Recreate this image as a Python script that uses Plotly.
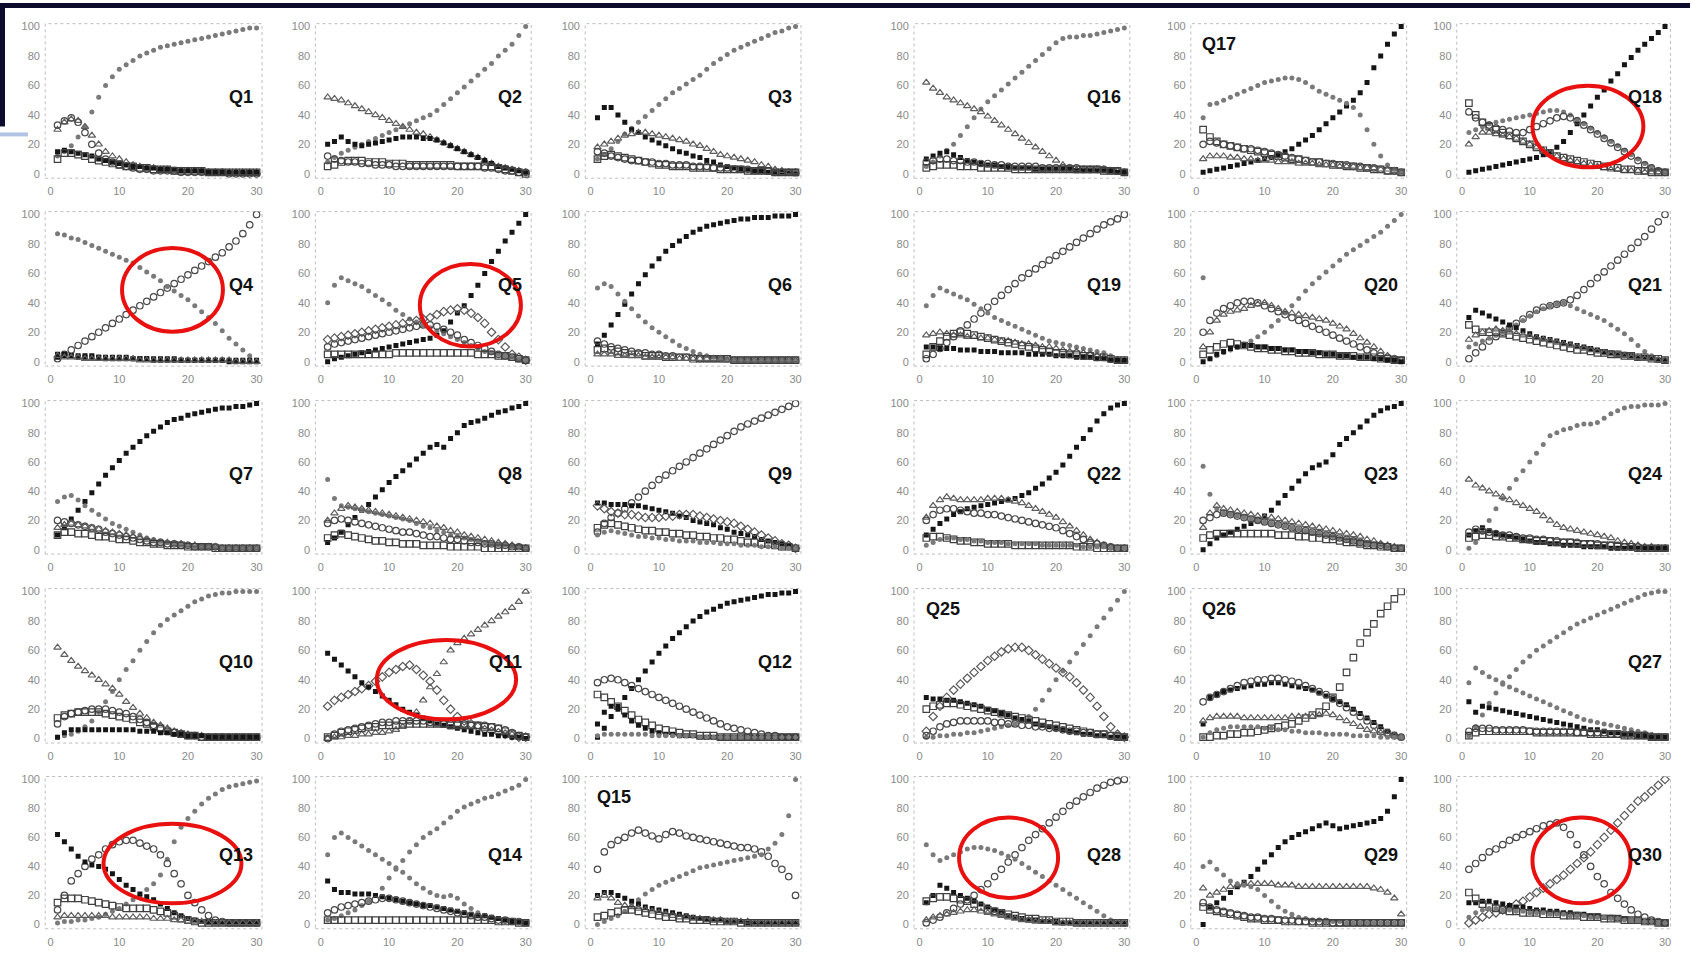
import plotly.graph_objects as go

# ---------------- data (x = 1..30 for every series) ----------------
Q1_a = [12,15,19,25,32,42,52,60,66,71,74,77,80,82,84,86,87,88,89,90,91,92,93,94,95,96,97,98,99,99]
Q1_b = [30,35,37,36,32,26,20,15,12,10,8,6,5,4,4,3,3,2,2,2,2,1,1,1,1,1,1,1,1,1]
Q1_c = [33,36,38,35,28,20,14,10,8,6,5,4,3,3,2,2,2,2,1,1,1,1,1,1,1,0,0,0,0,0]
Q1_d = [15,16,15,14,13,12,10,9,8,7,6,5,5,4,4,3,3,3,2,2,2,2,1,1,1,1,1,1,1,1]
Q1_e = [10,14,14,13,12,10,9,8,7,6,5,5,4,4,3,3,3,2,2,2,2,2,1,1,1,1,1,1,1,1]

Q2_a = [8,11,14,16,18,20,22,24,26,28,30,32,34,36,38,40,43,47,51,55,59,63,67,71,75,80,84,88,94,100]
Q2_b = [52,51,50,48,46,44,42,40,38,36,34,32,30,28,27,25,23,21,19,17,15,13,11,9,7,5,4,3,2,1]
Q2_c = [20,22,25,22,20,19,20,21,22,23,24,25,25,25,24,24,23,21,19,17,15,13,11,9,7,5,4,3,2,1]
Q2_d = [12,10,9,8,8,7,7,6,6,6,5,5,5,5,5,5,5,5,5,5,5,5,5,4,4,3,2,2,1,1]
Q2_e = [5,6,8,9,9,9,8,8,8,7,7,7,6,6,6,6,6,6,6,5,5,5,5,5,5,4,3,2,1,0]

Q3_a = [10,13,17,22,27,31,35,39,43,47,51,55,58,61,64,67,71,75,78,81,84,86,88,90,92,94,96,97,99,100]
Q3_b = [38,45,45,40,35,30,28,25,23,21,19,17,15,14,12,11,9,8,6,5,4,3,3,2,2,1,1,1,1,0]
Q3_c = [18,20,22,24,26,27,28,28,27,26,25,24,23,22,20,19,17,15,13,12,11,10,9,8,6,5,3,2,1,1]
Q3_d = [15,14,12,11,10,9,9,8,8,7,7,6,6,6,5,5,5,4,4,4,3,3,3,2,2,2,1,1,1,1]
Q3_e = [10,12,13,12,11,10,9,8,7,6,6,5,5,5,4,4,4,4,3,3,3,3,2,2,2,2,1,1,1,1]

Q4_a = [2,5,8,11,14,17,20,23,26,29,32,35,38,41,44,47,50,53,56,59,62,65,68,71,74,78,82,87,93,100]
Q4_b = [87,86,84,83,81,79,77,75,73,71,69,67,64,61,58,55,51,48,45,42,38,34,30,26,21,16,12,8,4,1]
Q4_c = [5,5,4,4,4,4,3,3,3,3,3,2,2,2,2,2,2,2,1,1,1,1,1,1,1,1,1,1,1,1]
Q4_d = [3,4,4,3,3,3,3,2,2,2,2,2,2,2,1,1,1,1,1,1,1,1,1,1,1,0,0,0,0,0]
Q4_e = [4,3,3,3,2,2,2,2,2,2,2,2,1,1,1,1,1,1,1,1,1,1,1,1,1,1,0,0,0,0]

Q5_a = [0,2,3,4,5,6,7,8,9,10,11,12,13,14,15,16,18,21,27,33,38,45,52,60,68,75,82,88,94,100]
Q5_b = [40,52,57,55,53,51,48,45,42,39,35,32,29,27,25,23,21,19,17,15,13,11,9,7,6,5,4,3,2,1]
Q5_c = [15,16,17,18,19,20,21,22,23,24,25,26,27,28,29,30,32,34,35,36,35,33,30,26,20,15,10,5,3,1]
Q5_d = [10,12,13,14,15,16,17,18,19,20,21,22,23,24,25,25,24,22,20,18,15,13,11,9,7,5,4,3,2,1]
Q5_e = [5,5,5,5,5,5,5,5,5,5,6,6,6,6,6,6,6,6,6,6,6,6,5,5,5,4,4,3,2,1]

Q6_a = [12,18,25,32,39,46,53,59,65,70,75,79,82,85,88,90,92,93,94,95,96,97,97,98,98,98,99,99,99,100]
Q6_b = [50,53,51,46,41,36,31,27,23,20,17,14,11,9,7,5,4,3,2,2,1,1,1,1,1,1,1,1,1,1]
Q6_c = [14,12,10,9,8,7,6,6,5,5,4,4,3,3,3,2,2,2,2,2,1,1,1,1,1,1,1,1,1,1]
Q6_d = [8,9,8,7,6,5,5,4,4,4,3,3,3,3,2,2,2,2,2,2,1,1,1,1,1,1,1,1,1,1]
Q6_e = [5,5,5,4,4,4,4,3,3,3,3,3,2,2,2,2,2,2,2,1,1,1,1,1,1,1,1,1,1,1]

Q7_a = [10,15,21,27,33,39,45,51,56,61,66,70,74,78,81,84,87,89,90,92,93,94,95,96,97,97,98,98,99,100]
Q7_b = [33,36,37,34,30,27,24,21,18,16,14,12,10,8,7,6,5,4,3,3,2,2,2,1,1,1,1,1,1,1]
Q7_c = [20,19,18,17,16,15,14,12,11,10,9,8,7,6,5,5,4,4,3,3,2,2,2,2,1,1,1,1,1,1]
Q7_d = [15,17,18,17,16,15,14,13,12,11,10,9,8,7,6,5,5,4,4,3,3,2,2,2,1,1,1,1,1,1]
Q7_e = [10,12,12,11,11,10,9,9,8,7,7,6,5,5,4,4,3,3,3,2,2,2,2,1,1,1,1,1,1,1]

Q8_a = [5,8,12,17,22,27,31,36,41,46,50,54,58,62,66,70,72,70,76,80,85,87,88,90,92,94,95,97,98,100]
Q8_b = [48,35,30,29,28,27,26,25,24,23,22,21,20,18,16,15,13,12,10,9,8,7,6,5,4,3,3,2,2,1]
Q8_c = [20,25,28,30,29,28,27,26,25,24,23,22,21,20,19,18,16,15,13,12,10,9,8,7,6,5,4,3,2,1]
Q8_d = [18,20,21,20,19,18,17,16,15,14,13,12,12,11,10,9,9,8,7,7,6,5,5,4,4,3,3,2,2,1]
Q8_e = [8,10,11,10,9,8,7,6,6,5,5,4,4,4,3,3,3,3,2,2,2,2,2,1,1,1,1,1,1,1]

Q9_a = [12,18,22,25,28,32,36,40,44,48,51,54,57,60,63,66,69,72,75,78,81,84,86,88,90,92,94,96,98,100]
Q9_b = [32,32,31,31,31,30,30,29,28,27,26,25,23,22,20,19,18,17,15,14,12,11,10,9,7,6,5,4,3,1]
Q9_c = [30,28,26,25,24,24,23,22,22,22,23,23,24,24,24,23,22,21,20,19,18,16,14,12,10,8,6,4,3,1]
Q9_d = [15,17,18,17,16,15,14,13,13,12,12,11,11,10,10,9,9,8,8,7,7,6,5,5,4,4,3,2,2,1]
Q9_e = [10,12,13,12,11,10,9,9,8,8,7,7,6,6,6,5,5,5,4,4,4,3,3,3,2,2,2,1,1,1]

Q10_a = [1,2,3,5,8,12,18,25,32,40,47,53,60,66,72,77,81,84,87,90,93,95,97,98,99,99,100,100,100,100]
Q10_b = [62,57,53,49,46,43,40,37,34,30,25,21,17,14,11,9,7,5,4,3,2,2,1,1,1,1,1,1,1,1]
Q10_c = [10,15,17,18,19,20,20,20,19,18,17,15,13,11,9,7,5,4,3,2,2,1,1,1,1,1,1,1,1,1]
Q10_d = [14,16,17,18,18,18,18,17,16,15,14,13,11,10,8,7,5,4,3,2,2,1,1,1,1,1,1,1,1,1]
Q10_e = [1,4,6,6,6,6,6,6,6,6,6,6,5,5,5,4,4,3,3,2,2,2,1,1,1,1,1,1,1,1]

Q11_a = [0,1,1,2,2,3,3,4,4,5,6,8,12,18,26,35,44,52,60,65,68,71,74,77,80,83,86,89,93,100]
Q11_b = [22,26,28,30,32,34,36,39,42,45,47,49,50,47,43,39,33,26,20,15,12,10,8,6,5,4,3,2,1,1]
Q11_c = [58,54,50,46,42,38,35,32,29,26,23,20,18,16,14,12,10,9,8,7,6,5,4,3,3,2,2,1,1,0]
Q11_d = [0,3,5,6,7,8,9,10,11,11,12,12,12,12,12,11,11,10,10,10,10,9,9,9,8,7,6,4,2,1]
Q11_e = [1,2,4,5,6,7,8,8,9,9,9,10,10,10,10,10,10,10,9,9,9,9,9,8,8,7,5,3,2,1]

Q12_a = [1,7,15,22,28,34,40,46,52,58,63,68,72,76,80,83,86,88,90,92,93,94,95,96,97,98,98,99,99,100]
Q12_b = [38,40,41,40,38,36,34,32,30,28,26,24,22,20,18,16,14,12,10,8,7,6,5,4,3,2,2,1,1,1]
Q12_c = [30,28,25,22,19,16,13,11,9,7,6,5,4,3,3,2,2,2,1,1,1,1,1,1,1,1,1,1,1,1]
Q12_d = [10,18,22,20,16,12,9,7,5,4,3,3,2,2,2,1,1,1,1,1,1,1,1,1,1,1,1,1,1,1]
Q12_e = [2,3,3,3,3,3,3,3,2,2,2,2,2,2,2,1,1,1,1,1,1,1,1,1,1,1,1,1,1,1]

Q13_a = [1,2,2,3,3,4,5,7,9,11,14,17,20,24,28,34,45,57,67,73,78,83,87,90,93,95,96,97,98,99]
Q13_b = [10,20,30,35,40,45,48,52,55,57,58,58,56,54,52,48,42,35,28,20,15,10,6,3,2,1,1,1,1,1]
Q13_c = [62,57,52,47,43,41,40,38,35,31,27,24,21,19,17,14,11,8,6,4,3,2,2,1,1,1,1,1,1,1]
Q13_d = [15,18,18,18,17,16,15,14,13,12,11,11,11,11,10,9,8,6,4,3,2,1,1,1,1,1,1,1,1,1]
Q13_e = [5,6,6,6,6,6,6,6,5,5,5,5,5,5,4,4,4,3,3,2,2,2,1,1,1,1,1,1,1,1]

Q14_a = [3,4,6,8,10,13,16,20,25,32,38,44,50,55,60,63,66,70,74,78,81,83,85,87,88,90,92,94,96,100]
Q14_b = [48,60,63,60,57,54,51,48,45,42,39,36,32,28,25,22,20,19,20,18,14,11,8,6,5,4,3,2,2,1]
Q14_c = [30,24,22,22,21,21,21,20,19,18,17,16,15,14,13,13,12,11,10,9,8,7,6,6,5,4,3,2,2,1]
Q14_d = [8,10,12,13,14,15,16,17,18,18,17,16,15,14,13,12,11,10,9,8,7,6,5,5,4,3,3,2,2,1]
Q14_e = [3,3,3,3,3,3,3,3,3,3,3,3,3,3,3,3,3,3,3,3,3,3,3,3,3,2,2,2,1,1]

Q15_a = [38,50,55,58,60,63,65,63,61,59,62,64,63,61,60,59,58,57,56,55,54,53,53,52,50,47,42,38,33,20]
Q15_b = [0,2,4,6,9,13,17,21,24,27,29,31,33,35,37,39,40,41,42,43,44,45,46,47,48,52,56,62,75,100]
Q15_c = [20,22,22,20,18,16,14,12,11,10,9,8,7,6,5,4,4,3,3,2,2,2,1,1,1,1,1,1,1,1]
Q15_d = [18,20,18,15,13,12,11,10,9,8,7,6,5,5,4,4,3,3,3,2,2,2,2,1,1,1,1,1,1,1]
Q15_e = [5,6,8,9,10,10,9,8,7,6,5,5,4,4,3,3,3,2,2,2,2,1,1,1,1,1,1,1,1,1]

Q16_a = [5,8,12,16,20,26,32,38,44,49,53,57,61,65,69,73,77,81,85,89,92,93,93,94,94,95,96,97,98,99]
Q16_b = [62,58,55,52,50,48,46,44,42,39,36,33,30,27,24,21,18,15,12,9,6,4,3,3,3,3,3,2,2,1]
Q16_c = [10,12,14,15,13,11,9,8,7,6,6,5,5,4,4,4,3,3,3,3,3,3,2,2,2,2,2,2,1,1]
Q16_d = [8,9,10,10,9,9,8,8,7,7,6,6,5,5,5,5,5,4,4,4,4,4,4,3,3,3,3,2,2,1]
Q16_e = [4,5,6,6,6,5,5,5,4,4,4,4,4,3,3,3,3,3,3,3,3,3,3,3,3,3,2,2,2,1]

Q17_a = [1,2,3,4,5,6,7,8,9,10,11,13,15,17,20,23,26,30,34,38,42,46,50,55,62,72,80,88,95,100]
Q17_b = [38,47,48,50,52,54,56,58,60,62,63,64,65,65,64,62,59,56,54,52,50,48,45,40,30,20,12,6,3,1]
Q17_c = [30,25,22,20,19,18,17,16,15,14,13,12,11,10,10,9,8,8,7,6,6,5,5,4,4,3,3,2,2,1]
Q17_d = [20,22,21,20,19,18,17,17,16,15,14,13,12,11,10,9,8,8,7,7,6,6,5,5,4,4,3,2,2,1]
Q17_e = [10,12,12,12,11,11,10,10,9,9,9,8,8,8,7,7,7,6,6,6,5,5,5,4,4,4,3,3,2,1]

Q18_a = [1,2,3,4,5,6,7,8,9,10,11,13,15,18,22,28,34,40,46,52,57,63,68,74,79,84,88,92,96,100]
Q18_b = [28,30,32,34,35,36,37,38,39,40,41,42,43,43,42,40,37,34,31,28,25,22,19,16,13,10,7,5,3,1]
Q18_c = [42,38,35,33,31,30,29,28,28,30,32,34,36,38,39,38,36,33,30,27,24,21,18,15,12,9,6,4,2,1]
Q18_d = [20,25,28,28,27,26,25,24,22,20,18,16,14,12,10,9,8,7,6,5,4,3,3,2,2,2,1,1,1,1]
Q18_e = [48,40,35,32,30,28,26,24,22,20,18,16,14,12,11,10,9,8,7,6,5,5,4,3,3,2,2,1,1,1]

Q19_a = [2,5,9,13,17,21,25,29,33,37,41,45,49,53,57,60,63,66,69,72,75,78,81,84,87,90,93,95,97,100]
Q19_b = [38,45,50,48,46,44,42,39,36,33,30,28,26,24,22,20,18,16,14,13,12,11,10,9,8,7,6,4,2,1]
Q19_c = [18,19,20,19,18,18,17,17,16,16,15,14,14,13,12,12,11,10,10,9,8,7,7,6,5,4,3,2,1,1]
Q19_d = [10,10,9,9,9,8,8,8,7,7,7,6,6,6,6,5,5,5,5,4,4,4,3,3,3,2,2,1,1,1]
Q19_e = [5,10,14,17,19,20,19,18,17,16,15,14,13,12,11,10,9,8,7,6,6,5,5,4,4,3,3,2,1,1]

Q20_a = [57,2,4,6,8,10,12,14,17,20,24,28,33,38,43,48,53,57,61,65,69,73,76,79,82,85,88,92,96,100]
Q20_b = [20,28,33,36,38,40,41,41,40,38,36,34,32,30,28,26,24,22,20,18,16,14,12,10,8,6,4,3,2,1]
Q20_c = [10,20,28,32,34,35,36,38,39,40,38,36,34,33,32,31,30,29,28,26,24,22,19,16,13,10,7,4,2,1]
Q20_d = [5,8,10,12,13,12,11,10,9,9,8,8,7,7,6,6,6,5,5,5,4,4,4,3,3,3,2,2,1,1]
Q20_e = [0,2,5,7,9,10,11,11,10,10,9,9,8,8,7,7,6,6,5,5,4,4,3,3,3,2,2,1,1,0]

Q21_a = [2,6,10,14,17,20,23,26,29,32,35,37,38,39,40,42,45,49,53,57,61,65,69,73,77,81,85,90,95,100]
Q21_b = [10,12,14,16,18,20,22,25,28,31,34,36,38,39,40,38,36,34,32,30,28,25,22,19,15,11,7,4,2,1]
Q21_c = [30,35,33,31,29,27,25,23,21,19,17,16,15,14,13,12,11,10,9,8,7,6,5,5,4,3,3,2,1,1]
Q21_d = [25,22,20,20,20,19,18,17,16,15,14,13,12,11,10,9,8,8,7,6,6,5,5,4,4,3,3,2,2,1]
Q21_e = [15,18,20,21,22,21,20,19,18,17,16,15,14,13,12,11,10,9,8,7,6,5,5,4,3,3,2,2,1,1]

Q22_a = [10,14,18,21,24,26,28,29,30,31,32,33,34,35,37,39,42,45,49,53,58,64,70,76,82,88,93,97,99,100]
Q22_b = [22,30,34,36,35,34,34,34,34,35,35,35,34,33,32,30,28,26,24,22,19,16,13,10,7,5,3,2,1,1]
Q22_c = [20,24,27,28,28,27,26,25,25,24,24,23,22,21,20,19,18,17,16,15,13,11,9,7,5,4,3,2,1,1]
Q22_d = [8,9,9,8,7,6,6,5,5,4,4,4,4,3,3,3,3,3,3,3,3,3,2,2,2,1,1,1,1,1]
Q22_e = [3,5,7,8,8,7,7,6,6,5,5,5,4,4,4,4,4,3,3,3,3,3,3,2,2,2,2,1,1,1]

Q23_a = [0,4,8,10,12,14,16,18,20,23,27,32,37,42,47,52,56,58,60,65,72,76,80,84,88,92,95,97,98,100]
Q23_b = [57,38,28,25,24,23,22,21,20,19,18,17,16,15,14,13,12,11,10,9,8,7,6,5,4,3,3,2,1,1]
Q23_c = [15,25,30,28,27,26,25,24,23,22,22,21,20,19,18,17,16,15,14,13,12,11,10,9,7,6,4,3,2,1]
Q23_d = [20,22,24,25,24,23,22,21,20,19,18,17,16,15,14,13,12,11,10,9,8,7,6,5,4,3,3,2,1,1]
Q23_e = [8,10,11,11,11,11,11,11,11,11,11,10,10,10,9,9,8,8,7,7,6,5,5,4,3,3,2,2,1,1]

Q24_a = [1,5,12,20,28,35,42,48,54,60,66,72,78,80,82,83,85,86,86,87,90,93,95,97,98,98,99,99,99,100]
Q24_b = [48,44,42,40,38,36,34,32,30,28,26,23,20,17,15,14,13,12,11,10,9,8,6,5,4,3,2,2,1,1]
Q24_c = [10,13,15,13,11,10,9,8,7,6,5,5,4,4,3,3,3,2,2,2,2,1,1,1,1,1,1,1,1,1]
Q24_d = [12,14,13,12,11,10,10,9,8,8,7,7,6,6,5,5,5,4,4,4,3,3,3,2,2,2,1,1,1,1]
Q24_e = [8,9,10,10,9,9,8,8,7,7,6,6,6,5,5,5,4,4,4,3,3,3,2,2,2,1,1,1,1,1]

Q25_a = [1,1,2,2,3,3,4,4,5,6,7,8,9,10,12,15,20,26,33,40,46,52,58,64,70,76,82,88,94,100]
Q25_b = [5,15,22,28,33,37,41,45,49,53,56,59,61,62,62,60,57,54,51,48,45,42,38,33,28,22,15,8,3,1]
Q25_c = [28,27,27,26,26,25,24,23,22,20,19,17,16,14,13,12,10,9,8,7,6,5,4,3,3,2,2,1,1,1]
Q25_d = [20,22,23,24,24,23,22,21,20,19,18,17,16,15,14,13,12,11,10,9,8,7,6,5,4,3,3,2,1,1]
Q25_e = [2,5,8,10,11,12,12,12,12,12,11,11,10,10,9,9,8,8,7,7,6,5,5,4,4,3,3,2,2,1]

Q26_a = [1,1,2,2,3,3,4,4,5,6,7,8,9,10,12,14,16,18,22,28,35,45,55,65,72,78,85,90,95,100]
Q26_b = [10,28,30,32,33,34,35,36,37,37,38,38,37,36,35,34,33,31,29,27,25,23,20,17,14,11,8,5,3,1]
Q26_c = [25,28,30,32,34,36,38,39,40,40,41,41,40,39,38,36,34,32,30,27,24,21,18,15,12,9,6,4,2,1]
Q26_d = [12,14,15,15,15,15,14,14,14,14,14,14,14,15,15,15,15,16,17,16,14,12,10,8,6,5,4,3,2,1]
Q26_e = [1,4,6,7,8,8,8,8,8,7,7,6,6,5,5,4,4,4,3,3,3,3,2,2,2,2,1,1,1,1]

Q27_a = [2,8,16,24,31,37,42,47,52,56,60,63,66,69,72,75,78,80,82,84,86,88,90,92,94,96,98,99,100,100]
Q27_b = [38,48,45,42,40,38,35,33,31,29,27,25,23,21,19,17,15,13,12,11,10,9,8,7,6,5,4,3,2,1]
Q27_c = [25,18,22,21,20,19,18,17,16,15,14,13,12,11,10,9,8,7,6,6,5,4,4,3,3,2,2,1,1,1]
Q27_d = [5,7,7,7,6,6,6,6,6,5,5,5,5,5,5,5,4,4,4,4,4,3,3,3,3,2,2,1,1,1]
Q27_e = [2,4,5,5,5,5,5,5,5,5,4,4,4,4,4,4,4,4,3,3,3,3,3,2,2,2,2,1,1,1]

Q28_a = [1,3,5,8,11,14,17,20,24,28,33,38,43,48,53,58,62,66,70,74,78,82,85,88,91,94,96,98,99,100]
Q28_b = [55,48,44,46,48,50,52,53,53,52,51,49,47,45,42,39,36,33,30,27,24,21,18,15,12,9,6,3,1,0]
Q28_c = [15,20,27,25,22,20,18,16,14,12,10,8,6,5,4,3,3,2,2,2,1,1,1,1,1,1,1,1,1,1]
Q28_d = [16,18,19,19,18,17,16,14,12,10,9,8,7,6,5,4,4,3,3,2,2,2,1,1,1,1,1,1,1,1]
Q28_e = [3,5,6,7,8,9,10,10,9,8,7,6,5,4,3,3,2,2,2,1,1,1,1,1,1,1,1,1,1,1]

Q29_a = [0,12,15,18,22,26,29,33,38,43,48,53,57,60,62,64,66,68,70,68,66,67,68,69,70,71,73,78,88,100]
Q29_b = [25,20,22,24,26,27,28,28,28,28,28,27,27,27,26,26,26,26,26,26,26,26,26,26,26,25,24,22,18,7]
Q29_c = [40,43,38,34,30,28,27,26,24,20,16,12,9,7,5,4,3,3,2,2,2,1,1,1,1,1,1,1,1,1]
Q29_d = [15,12,10,9,8,7,6,5,5,4,4,3,3,3,2,2,2,2,2,1,1,1,1,1,1,1,1,1,1,1]
Q29_e = [12,10,9,8,7,6,5,4,4,3,3,3,2,2,2,2,1,1,1,1,1,1,1,1,1,1,1,1,1,1]

Q30_a = [1,3,5,7,8,10,12,14,16,19,22,25,28,31,34,38,42,46,50,55,60,65,70,75,80,85,88,92,96,100]
Q30_b = [38,42,46,50,52,55,58,60,62,64,66,68,69,70,67,62,55,48,40,33,28,22,18,14,10,7,5,3,2,1]
Q30_c = [15,15,16,16,15,14,13,12,12,11,10,10,9,9,8,8,7,7,6,6,5,5,4,4,3,3,2,2,1,1]
Q30_d = [22,18,14,12,11,10,9,9,8,8,8,7,7,7,6,6,6,5,5,5,4,4,4,3,3,3,2,2,1,1]
Q30_e = [5,8,10,11,11,10,10,9,9,8,8,8,7,7,7,6,6,6,5,5,5,4,4,3,3,3,2,2,1,1]

X_TICKS = [0, 10, 20, 30]
Y_TICKS = [0, 20, 40, 60, 80, 100]

PANEL_SERIES = {
    1: [Q1_a, Q1_b, Q1_c, Q1_d, Q1_e], 2: [Q2_a, Q2_b, Q2_c, Q2_d, Q2_e],
    3: [Q3_a, Q3_b, Q3_c, Q3_d, Q3_e], 4: [Q4_a, Q4_b, Q4_c, Q4_d, Q4_e],
    5: [Q5_a, Q5_b, Q5_c, Q5_d, Q5_e], 6: [Q6_a, Q6_b, Q6_c, Q6_d, Q6_e],
    7: [Q7_a, Q7_b, Q7_c, Q7_d, Q7_e], 8: [Q8_a, Q8_b, Q8_c, Q8_d, Q8_e],
    9: [Q9_a, Q9_b, Q9_c, Q9_d, Q9_e], 10: [Q10_a, Q10_b, Q10_c, Q10_d, Q10_e],
    11: [Q11_a, Q11_b, Q11_c, Q11_d, Q11_e], 12: [Q12_a, Q12_b, Q12_c, Q12_d, Q12_e],
    13: [Q13_a, Q13_b, Q13_c, Q13_d, Q13_e], 14: [Q14_a, Q14_b, Q14_c, Q14_d, Q14_e],
    15: [Q15_a, Q15_b, Q15_c, Q15_d, Q15_e], 16: [Q16_a, Q16_b, Q16_c, Q16_d, Q16_e],
    17: [Q17_a, Q17_b, Q17_c, Q17_d, Q17_e], 18: [Q18_a, Q18_b, Q18_c, Q18_d, Q18_e],
    19: [Q19_a, Q19_b, Q19_c, Q19_d, Q19_e], 20: [Q20_a, Q20_b, Q20_c, Q20_d, Q20_e],
    21: [Q21_a, Q21_b, Q21_c, Q21_d, Q21_e], 22: [Q22_a, Q22_b, Q22_c, Q22_d, Q22_e],
    23: [Q23_a, Q23_b, Q23_c, Q23_d, Q23_e], 24: [Q24_a, Q24_b, Q24_c, Q24_d, Q24_e],
    25: [Q25_a, Q25_b, Q25_c, Q25_d, Q25_e], 26: [Q26_a, Q26_b, Q26_c, Q26_d, Q26_e],
    27: [Q27_a, Q27_b, Q27_c, Q27_d, Q27_e], 28: [Q28_a, Q28_b, Q28_c, Q28_d, Q28_e],
    29: [Q29_a, Q29_b, Q29_c, Q29_d, Q29_e], 30: [Q30_a, Q30_b, Q30_c, Q30_d, Q30_e],
}

# highlighted regions (panel, x0, x1, y0, y1) in data units
HIGHLIGHTS = [
    (4, 10.4, 25.1, 20.4, 77.3),
    (5, 14.5, 29.3, 10.3, 66.4),
    (11, 8.2, 28.6, 13.1, 67.1),
    (13, 7.7, 27.8, 14.6, 69.4),
    (18, 10.4, 26.8, 4.4, 59.8),
    (28, 5.8, 20.3, 18.3, 73.7),
    (30, 10.4, 24.9, 14.6, 73.7),
]

# ---------------- styles ----------------
STYLES = {
    'gd': dict(symbol='circle', size=5, color='#7a7a7a', lw=0),
    'bs': dict(symbol='square', size=5, color='#151515', lw=0),
    'ot': dict(symbol='triangle-up-open', size=6.5, color='#5e5e5e', lw=1.2),
    'oc': dict(symbol='circle-open', size=6.5, color='#4a4a4a', lw=1.2),
    'os': dict(symbol='square-open', size=6.5, color='#404040', lw=1.2),
    'od': dict(symbol='diamond-open', size=6.5, color='#5a5a5a', lw=1.2),
}
PANEL_STYLES = {
    1: ['gd', 'ot', 'oc', 'bs', 'os'], 2: ['gd', 'ot', 'bs', 'oc', 'os'],
    3: ['gd', 'bs', 'ot', 'oc', 'os'], 4: ['oc', 'gd', 'bs', 'bs', 'ot'],
    5: ['bs', 'gd', 'od', 'oc', 'os'], 6: ['bs', 'gd', 'oc', 'os', 'ot'],
    7: ['bs', 'gd', 'oc', 'ot', 'os'], 8: ['bs', 'gd', 'ot', 'oc', 'os'],
    9: ['oc', 'bs', 'od', 'os', 'gd'], 10: ['gd', 'ot', 'oc', 'os', 'bs'],
    11: ['ot', 'od', 'bs', 'oc', 'os'], 12: ['bs', 'oc', 'os', 'bs', 'gd'],
    13: ['gd', 'oc', 'bs', 'os', 'ot'], 14: ['gd', 'gd', 'bs', 'oc', 'os'],
    15: ['oc', 'gd', 'bs', 'ot', 'os'], 16: ['gd', 'ot', 'bs', 'oc', 'os'],
    17: ['bs', 'gd', 'os', 'oc', 'ot'], 18: ['bs', 'gd', 'oc', 'ot', 'os'],
    19: ['oc', 'gd', 'ot', 'bs', 'os'], 20: ['gd', 'oc', 'ot', 'os', 'bs'],
    21: ['oc', 'gd', 'bs', 'os', 'ot'], 22: ['bs', 'ot', 'oc', 'os', 'gd'],
    23: ['bs', 'gd', 'ot', 'oc', 'os'], 24: ['gd', 'ot', 'bs', 'oc', 'os'],
    25: ['gd', 'od', 'bs', 'os', 'oc'], 26: ['os', 'bs', 'oc', 'ot', 'gd'],
    27: ['gd', 'gd', 'bs', 'oc', 'os'], 28: ['oc', 'gd', 'bs', 'os', 'ot'],
    29: ['bs', 'ot', 'gd', 'oc', 'os'], 30: ['od', 'oc', 'bs', 'os', 'gd'],
}
TOP_LEFT_LABELS = {15, 17, 25, 26}

# ---------------- layout geometry (pixels) ----------------
W, H = 1691, 953
COL_X0 = [50.7, 321, 591, 920, 1197, 1463]     # pixel of x=0
COL_X30 = [256.7, 526, 796, 1125, 1402, 1666]  # pixel of x=30
ROW_Y100 = [23.7, 212.4, 402.2, 591.0, 779.7]  # pixel of y=100
ROW_Y0 = [171.5, 360.2, 549.0, 738.7, 925.3]   # pixel of y=0
XR = (-0.8, 30.8)
YR = (-3.0, 102.0)
FONT = 'Liberation Sans, Arial, sans-serif'


def panel_pos(n):
    if n <= 15:
        return (n - 1) // 3, (n - 1) % 3
    return (n - 16) // 3, 3 + (n - 16) % 3


fig = go.Figure()
layout = dict(width=W, height=H, margin=dict(l=0, r=0, t=0, b=0),
              paper_bgcolor='white', plot_bgcolor='white', showlegend=False)
shapes = []
annotations = []

for n in range(1, 31):
    r, c = panel_pos(n)
    ppx = (COL_X30[c] - COL_X0[c]) / 30.0
    ppy = (ROW_Y0[r] - ROW_Y100[r]) / 100.0
    left = COL_X0[c] + XR[0] * ppx
    right = COL_X0[c] + XR[1] * ppx
    top = ROW_Y0[r] - YR[1] * ppy
    bottom = ROW_Y0[r] - YR[0] * ppy
    xa = 'xaxis' if n == 1 else f'xaxis{n}'
    ya = 'yaxis' if n == 1 else f'yaxis{n}'
    xr = 'x' if n == 1 else f'x{n}'
    yr = 'y' if n == 1 else f'y{n}'
    tickfont = dict(family=FONT, size=11, color='#8a8a8a')
    layout[xa] = dict(domain=[left / W, right / W], range=list(XR), anchor=yr,
                      tickvals=X_TICKS, tickfont=tickfont, showgrid=False,
                      zeroline=False, showline=False, ticks='outside', ticklen=3,
                      tickcolor='rgba(0,0,0,0)')
    layout[ya] = dict(domain=[1 - bottom / H, 1 - top / H], range=list(YR), anchor=xr,
                      tickvals=Y_TICKS, tickfont=tickfont, showgrid=False,
                      zeroline=False, showline=False, ticks='outside', ticklen=2,
                      tickcolor='rgba(0,0,0,0)')
    shapes.append(dict(type='rect', xref=f'{xr} domain', yref=f'{yr} domain',
                       x0=0, x1=1, y0=0, y1=1, layer='below',
                       line=dict(color='#bdbdbd', width=1, dash='dot')))
    for vals, sk in zip(PANEL_SERIES[n], PANEL_STYLES[n]):
        st = STYLES[sk]
        fig.add_trace(go.Scatter(
            x=list(range(1, len(vals) + 1)), y=vals, mode='markers',
            xaxis=xr, yaxis=yr, hoverinfo='skip',
            marker=dict(symbol=st['symbol'], size=st['size'], color=st['color'],
                        line=dict(width=st['lw'], color=st['color']))))
    if n in TOP_LEFT_LABELS:
        annotations.append(dict(x=0.6, y=88, xref=xr, yref=yr, text=f'<b>Q{n}</b>',
                                showarrow=False, xanchor='left', yanchor='middle',
                                font=dict(family=FONT, size=18, color='#111111')))
    else:
        annotations.append(dict(x=29.8, y=48 if r == 4 else 52, xref=xr, yref=yr,
                                text=f'<b>Q{n}</b>', showarrow=False, xanchor='right',
                                yanchor='middle',
                                font=dict(family=FONT, size=18, color='#111111')))

for (n, x0, x1, y0, y1) in HIGHLIGHTS:
    xr = 'x' if n == 1 else f'x{n}'
    yr = 'y' if n == 1 else f'y{n}'
    shapes.append(dict(type='circle', xref=xr, yref=yr, x0=x0, x1=x1, y0=y0, y1=y1,
                       line=dict(color='#e8110f', width=4), layer='above'))

# slide-edge decorations (navy bar on top, strip on left)
shapes.append(dict(type='rect', xref='paper', yref='paper', x0=0, x1=1,
                   y0=1 - 5 / H, y1=1, fillcolor='#0d0c2e', line=dict(width=0)))
shapes.append(dict(type='rect', xref='paper', yref='paper', x0=0, x1=5 / W,
                   y0=1 - 124 / H, y1=1, fillcolor='#0d0c2e', line=dict(width=0)))
shapes.append(dict(type='rect', xref='paper', yref='paper', x0=0, x1=28 / W,
                   y0=1 - 134 / H, y1=1 - 130 / H, fillcolor='#7e9ad0',
                   opacity=0.6, line=dict(width=0)))

layout['shapes'] = shapes
layout['annotations'] = annotations
fig.update_layout(**layout)
fig.write_html('out.html', config={'displayModeBar': False},
               post_script="document.body.style.margin='0';document.body.style.overflow='hidden';")
